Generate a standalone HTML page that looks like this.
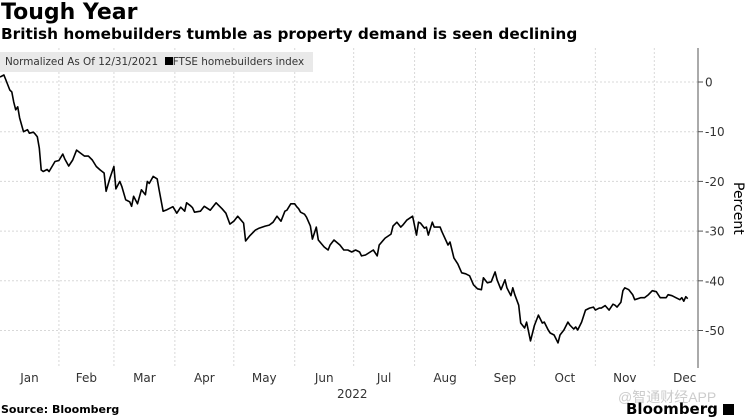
<!DOCTYPE html>
<html><head><meta charset="utf-8"><style>
body{margin:0;width:747px;height:417px;background:#fff;position:relative;overflow:hidden;font-family:"DejaVu Sans","Liberation Sans",sans-serif}
.t{position:absolute;white-space:nowrap}
</style></head><body>
<div class="t" style="left:1px;top:0px;font-size:22px;font-weight:bold">Tough Year</div>
<div class="t" style="left:1px;top:25px;font-size:15.3px;font-weight:bold">British homebuilders tumble as property demand is seen declining</div>
<svg id="c" width="747" height="417" style="position:absolute;left:0;top:0"></svg>
<div class="t" style="left:0;top:52px;width:313px;height:20px;background:#e9e9e9;font-size:10.4px;line-height:20px;color:#333;padding-left:5px;box-sizing:border-box">Normalized As Of 12/31/2021 &nbsp;<span style="display:inline-block;width:8px;height:8px;background:#000"></span>FTSE homebuilders index</div>
<div class="t" style="top:182px;font-size:14px;transform:rotate(90deg);transform-origin:0 0;left:746px">Percent</div>
<div class="t" style="left:337px;top:387px;font-size:12px;color:#333">2022</div>
<div class="t" style="left:1px;top:403px;font-size:11px;font-weight:bold">Source: Bloomberg</div>
<div class="t" style="left:618px;top:387px;font-size:14px;color:#ccc;font-family:'Liberation Sans','Noto Sans CJK SC',sans-serif">@智通财经APP</div>
<div class="t" style="left:626px;top:400px;font-size:15px;font-weight:bold">Bloomberg <span style="display:inline-block;width:11px;height:11px;background:#000;vertical-align:-1px"></span></div>
<script>
const days=[1,3,4,6,7,8,9,10,11,13,15,16,18,19,20,21,22,23,25,26,29,31,33,34,36,38,40,42,44,46,48,50,52,54,55,57,59,60,62,63,65,67,68,69,71,73,75,76,77,79,81,82,84,86,89,91,93,95,96,98,99,100,103,105,108,111,114,116,118,120,122,125,126,128,131,133,136,138,140,142,144,146,147,149,151,152,153,154,156,157,159,160,162,163,166,168,169,171,174,176,178,180,182,184,185,187,191,193,194,197,200,201,203,205,206,208,211,213,214,215,217,218,219,221,222,225,226,229,230,232,234,236,238,240,242,244,246,247,249,251,253,254,256,258,259,261,262,263,265,266,268,269,271,273,275,277,278,280,281,283,285,286,288,290,291,293,294,295,297,299,301,303,304,306,307,309,311,313,314,315,317,318,319,321,323,324,327,329,331,333,335,337,340,341,343,345,347,348,349,350,351];
const values=[1,1.4,0.4,-1.6,-2,-4,-5.6,-5,-7.2,-10,-9.6,-10.3,-10.1,-10.5,-11,-13.3,-17.7,-18,-17.6,-18,-16,-15.8,-14.5,-15.5,-16.9,-15.7,-13.7,-14.3,-14.9,-14.9,-15.7,-17,-17.7,-18.3,-22,-19.3,-17,-21.5,-20,-21,-23.7,-24.1,-25,-23,-24.5,-21.7,-22.7,-20,-20.4,-19,-19.5,-21.7,-26,-25.7,-25.1,-26.4,-25.2,-26,-24.3,-24.9,-25.3,-26.2,-26,-25,-25.8,-24.3,-25.5,-26.4,-28.6,-28,-27,-28.4,-32,-31,-29.8,-29.4,-29,-28.8,-28.2,-27,-28,-26,-25.8,-24.5,-24.5,-25.1,-25.5,-26.2,-26.6,-27.2,-29,-31.6,-29.2,-31.8,-33.2,-33.8,-32.8,-31.8,-32.8,-33.8,-33.8,-34.2,-33.8,-34.2,-35,-34.8,-33.8,-35,-32.8,-31.4,-30.6,-29,-28.2,-29.2,-28.8,-27.8,-27,-30.8,-28.2,-28.4,-29.4,-29.2,-30.8,-28.2,-29.2,-29.2,-30.2,-32.8,-32.2,-35.4,-36.6,-38.4,-38.6,-39,-40.8,-41.6,-41.8,-39.4,-40.4,-40.2,-38.2,-39.8,-41.8,-39.8,-41.4,-43,-41.4,-42.8,-44.9,-48.5,-49.5,-48.3,-52.1,-49,-46.9,-48.5,-48.3,-49.9,-50.5,-50.9,-52.5,-50.9,-49.9,-48.3,-48.9,-49.7,-49.3,-49.9,-48.3,-45.9,-45.5,-45.3,-45.9,-45.5,-45.5,-45,-45.9,-44.7,-44.9,-45.3,-44.3,-42,-41.4,-41.8,-42.8,-43.8,-43.4,-43.4,-42.8,-42,-42.2,-43.4,-43.4,-42.8,-43,-43.4,-43.8,-43.4,-44.1,-43.2,-43.6];
const yTicks=[0,-10,-20,-30,-40,-50];
const months=["Jan","Feb","Mar","Apr","May","Jun","Jul","Aug","Sep","Oct","Nov","Dec"];
const monthStarts=[0,31,59,90,120,151,181,212,243,273,304,334,365];
const NS="http://www.w3.org/2000/svg";
const svg=document.getElementById('c');
const X=d=>-2+d*1.965;
const Y=v=>82-v*4.97;
const top0=48,bot=368,axisX=698;
function el(t,a,p){const e=document.createElementNS(NS,t);for(const k in a)e.setAttribute(k,a[k]);(p||svg).appendChild(e);return e;}
yTicks.forEach(v=>{
  const g=el('line',{x1:0,x2:axisX,y1:Y(v),y2:Y(v),stroke:'#d8d8d8','stroke-dasharray':'2,2'});
  
  
  const tk=el('line',{x1:axisX,x2:axisX+5,y1:Y(v),y2:Y(v),stroke:'#555'});
  
  
  const tx=el('text',{x:axisX+7,y:Y(v)+4.5,'font-size':12,fill:'#333','font-family':'DejaVu Sans,Liberation Sans,sans-serif'});
  tx.textContent=v;
  
  
});
months.forEach((m,i)=>{
  if(i>0){const g=el('line',{x1:X(monthStarts[i]),x2:X(monthStarts[i]),y1:top0,y2:bot,stroke:'#d8d8d8','stroke-dasharray':'2,2'});
  
  }
  const t=el('text',{x:(X(monthStarts[i])+X(monthStarts[i+1]))/2+(i==0?1:0),y:382,'font-size':12,fill:'#333','text-anchor':'middle','font-family':'DejaVu Sans,Liberation Sans,sans-serif'});
  t.textContent=m;
  
  
});
const ax=el('line',{x1:axisX,x2:axisX,y1:top0,y2:bot,stroke:'#555'});


const pts=days.map((d,i)=>X(d).toFixed(1)+','+Y(values[i]).toFixed(1)).join(' ');
const pl=el('polyline',{points:pts,fill:'none',stroke:'#000','stroke-width':1.6,'stroke-linejoin':'round'});


</script>
</body></html>
